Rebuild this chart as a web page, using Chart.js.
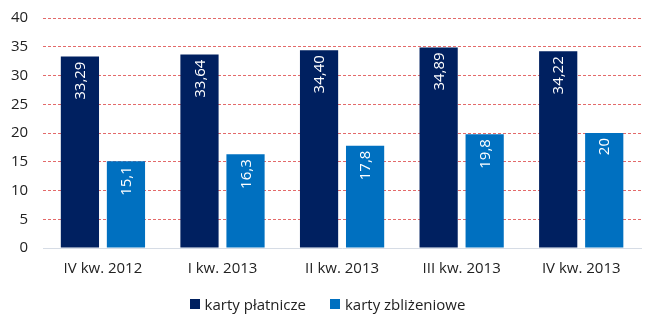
<!DOCTYPE html>
<html>
<head>
<meta charset="utf-8">
<script src="https://cdn.jsdelivr.net/npm/chart.js@4"></script>
<style>
  html, body { margin: 0; padding: 0; background: #fff; overflow: hidden; }
  #wrap { position: relative; width: 655px; height: 327px; overflow: hidden; font-family: "Open Sans", "Noto Sans", sans-serif; }
  #chart { position: absolute; left: -4px; top: -6px; }
  #legend { position: absolute; left: 0; right: 0; top: 293px; height: 22px; display: flex; justify-content: center; gap: 24px; font-size: 15px; line-height: 22px; color: #222; }
  #legend span.item { display: flex; align-items: center; }
  #legend i { display: inline-block; width: 10px; height: 10px; margin-right: 5px; }
</style>
</head>
<body>
<div id="wrap">
  <canvas id="chart" width="659" height="303"></canvas>
  <div id="legend"></div>
</div>
<script>
// quarters and card counts (mln)
const quarters = ['IV kw. 2012', 'I kw. 2013', 'II kw. 2013', 'III kw. 2013', 'IV kw. 2013'];
const paymentCards = [33.29, 33.64, 34.40, 34.89, 34.22];
const contactlessCards = [15.1, 16.3, 17.8, 19.8, 20];
const paymentLabels = ['33,29', '33,64', '34,40', '34,89', '34,22'];
const contactlessLabels = ['15,1', '16,3', '17,8', '19,8', '20'];
const yTicks = [0, 5, 10, 15, 20, 25, 30, 35, 40];

const FONT = '"Open Sans", "Noto Sans", sans-serif';

// vertical white labels just under the top of each bar
const barLabels = {
  id: 'barLabels',
  afterDatasetsDraw(chart) {
    const ctx = chart.ctx;
    chart.data.datasets.forEach((ds, i) => {
      const meta = chart.getDatasetMeta(i);
      meta.data.forEach((bar, j) => {
        ctx.save();
        ctx.translate(bar.x, bar.y + 5);
        ctx.rotate(-Math.PI / 2);
        ctx.fillStyle = '#fff';
        ctx.font = '15px ' + FONT;
        ctx.textAlign = 'right';
        ctx.textBaseline = 'middle';
        ctx.fillText(ds.labelsText[j], 0, 1);
        ctx.restore();
      });
    });
  }
};

const chart = new Chart(document.getElementById('chart'), {
  type: 'bar',
  data: {
    labels: quarters,
    datasets: [
      { label: 'karty płatnicze', data: paymentCards, labelsText: paymentLabels, backgroundColor: '#002060' },
      { label: 'karty zbliżeniowe', data: contactlessCards, labelsText: contactlessLabels, backgroundColor: '#0070C0' }
    ]
  },
  options: {
    responsive: false,
    animation: false,
    layout: { padding: { left: 0, right: 14, top: 0, bottom: 7 } },
    datasets: { bar: { categoryPercentage: 0.77, barPercentage: 0.83 } },
    plugins: {
      tooltip: { enabled: false },
      legend: { display: false }
    },
    scales: {
      x: {
        grid: { display: false, drawTicks: false },
        border: { color: '#d6dce5' },
        ticks: { color: '#222', font: { family: FONT, size: 15 }, padding: 12 }
      },
      y: {
        min: 0, max: 40,
        afterBuildTicks(axis) { axis.ticks = yTicks.map(v => ({ value: v })); },
        grid: { color: '#e36a6a', lineWidth: 1, drawTicks: false },
        border: { display: false, dash: [3, 2] },
        ticks: { color: '#222', font: { family: FONT, size: 15 }, padding: 15 }
      }
    }
  },
  plugins: [barLabels]
});

// legend under the chart, built from the datasets
document.getElementById('legend').innerHTML = chart.data.datasets.map(ds =>
  `<span class="item"><i style="background:${ds.backgroundColor}"></i>${ds.label}</span>`
).join('');
</script>
</body>
</html>
